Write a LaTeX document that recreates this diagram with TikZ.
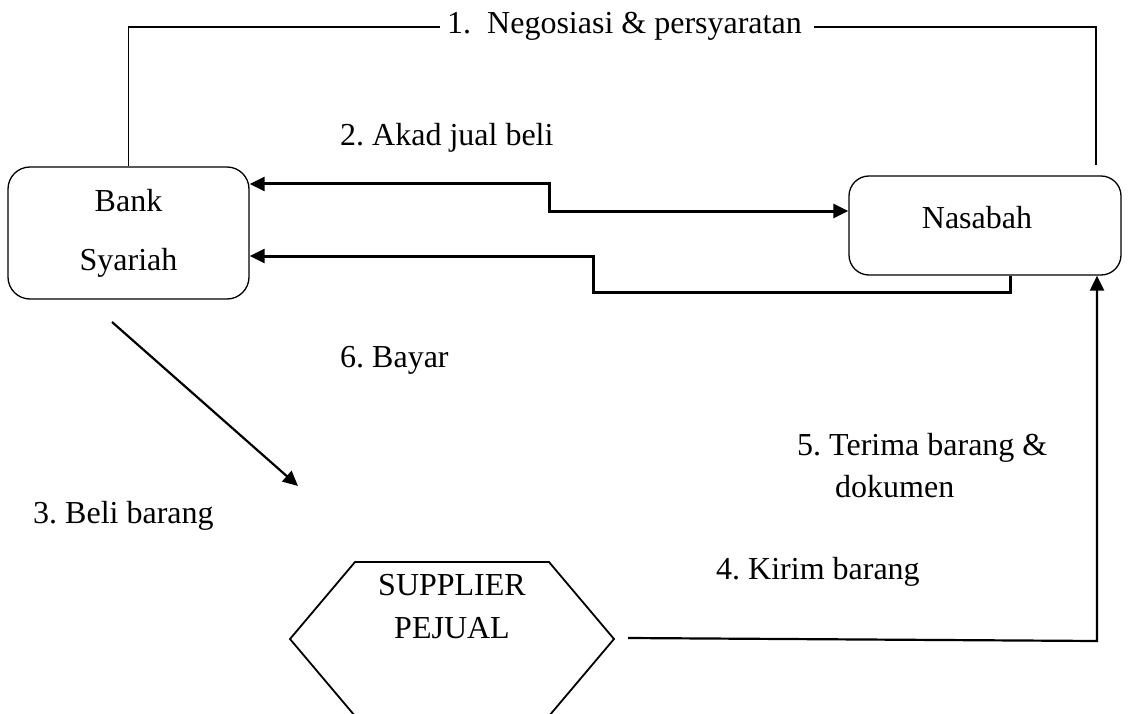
\documentclass[tikz,border=0pt]{standalone}
\usepackage{fontspec}
\setmainfont{Liberation Serif}
\usetikzlibrary{arrows.meta}
\frenchspacing
\begin{document}
\begin{tikzpicture}[x=1pt,y=-1pt,
 lbl/.style={inner sep=0pt,font=\fontsize{32}{38}\selectfont},
 box/.style={draw,rounded corners=22pt,line width=1.3pt,inner sep=0pt,align=center,font=\fontsize{32}{59}\selectfont},
 topline/.style={line width=1.8pt},
 heavy/.style={line width=3pt},
 mid/.style={line width=2.2pt},
 tip/.style={-{Triangle[length=15pt,width=14pt]}},
 bitip/.style={{Triangle[length=15pt,width=14pt]}-{Triangle[length=15pt,width=14pt]}},
]
\useasboundingbox (0,0) rectangle (1129,714);
% boxes
\node[box,minimum width=241pt,minimum height=132pt] (bank) at (128.5,233) {Bank\\Syariah};
\node[box,minimum width=272pt,minimum height=99pt,rounded corners=20pt] (nas) at (985,225.5) {};
\node[lbl,anchor=base] (nast) at (977,229) {Nasabah};
% hexagon
\coordinate (h1) at (355,562);
\coordinate (h2) at (549,562);
\coordinate (h3) at (614,639);
\coordinate (h4) at (549,716);
\coordinate (h5) at (355,716);
\coordinate (h6) at (290,639);
\draw[line width=1.8pt,line join=miter] (h1) -- (h2) -- (h3) -- (h4) -- (h5) -- (h6) -- cycle;
\node[lbl,anchor=base] (sup1) at (452,595) {SUPPLIER};
\node[lbl,anchor=base] (sup2) at (452,638) {PEJUAL};
% labels
\node[lbl,anchor=base west] (n1) at (447,34) {1.\ \ Negosiasi \& persyaratan};
\node[lbl,anchor=base west] (n2) at (340,146) {2. Akad jual beli};
\node[lbl,anchor=base west] (n6) at (340,367) {6. Bayar};
\node[lbl,anchor=base west] (n5) at (797,455) {5. Terima barang \&};
\node[lbl,anchor=base west] (n5b) at (835,497) {dokumen};
\node[lbl,anchor=base west] (n3) at (33,523) {3. Beli barang};
\node[lbl,anchor=base west] (n4) at (716,579) {4. Kirim barang};
% connector 1
\coordinate (r1) at (1096,165);
\draw[topline] (bank.north) |- ([xshift=-7pt]n1.west);
\draw[topline] ([xshift=12pt]n1.east) -| (r1);
% connector 2
\coordinate (a2s) at (bank.east |- 0,184);
\coordinate (a2e) at (nas.west |- 0,211);
\draw[heavy,bitip] (a2s) -- (549,184) -- (549,211) -- (a2e);
% connector 6
\coordinate (b6s) at (nas.south -| 1010,0);
\coordinate (b6e) at (bank.east |- 0,256);
\draw[heavy,tip] (b6s) -- (1010,292) -- (593,292) -- (593,256) -- (b6e);
% connector 3
\coordinate (c3s) at (112,322);
\coordinate (c3e) at (298,486);
\draw[mid,tip] (c3s) -- (c3e);
% connector 4/5
\coordinate (d4s) at (628,638);
\coordinate (d4e) at (nas.south -| 1097,0);
\draw[mid,tip] (d4s) -- (1097,641) -- (d4e);
\end{tikzpicture}
\end{document}
